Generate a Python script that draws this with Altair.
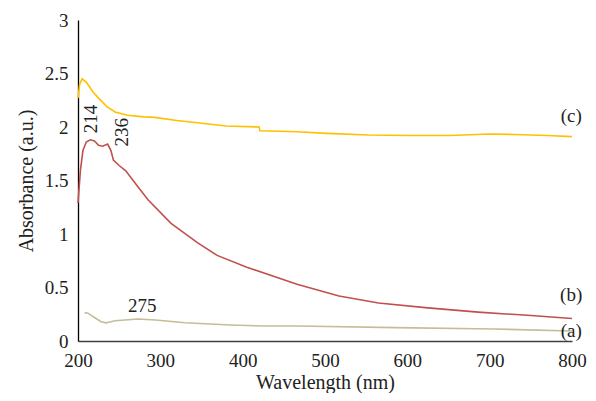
import altair as alt
import pandas as pd

# (c) yellow
c_wl = [200, 202, 205, 210, 218, 225, 235, 245, 260, 280, 293, 320, 345, 380, 420, 421, 466, 502, 553, 600, 652, 700, 730, 770, 800]
c_ab = [2.27, 2.40, 2.45, 2.42, 2.33, 2.27, 2.19, 2.14, 2.11, 2.095, 2.09, 2.06, 2.04, 2.01, 2.00, 1.965, 1.955, 1.94, 1.925, 1.92, 1.92, 1.935, 1.93, 1.92, 1.91]

# (b) red
b_wl = [200, 203, 206, 210, 215, 220, 225, 230, 236, 240, 243, 250, 258, 273, 285, 313, 345, 369, 405, 466, 517, 565, 625, 686, 746, 800]
b_ab = [1.29, 1.60, 1.78, 1.86, 1.88, 1.87, 1.83, 1.82, 1.84, 1.78, 1.69, 1.64, 1.59, 1.44, 1.32, 1.10, 0.92, 0.80, 0.69, 0.53, 0.42, 0.355, 0.31, 0.27, 0.24, 0.21]

# (a) khaki
a_wl = [208, 212, 220, 228, 234, 240, 245, 273, 294, 330, 385, 426, 466, 586, 706, 800]
a_ab = [0.265, 0.26, 0.22, 0.18, 0.17, 0.18, 0.19, 0.205, 0.196, 0.17, 0.15, 0.14, 0.14, 0.125, 0.112, 0.094]

series_names = ["a", "b", "c"]
series_colors = ["#C4BD97", "#C0504D", "#FFC000"]

# peak annotations
peak_text = ["214", "236", "275"]
peak_x = [215.6, 252.9, 278]
peak_y = [2.075, 1.95, 0.327]
peak_angle = [270, 270, 0]

# curve labels
lab_text = ["(c)", "(b)", "(a)"]
lab_x = [799, 799, 799]
lab_y = [2.10, 0.43, 0.09]

rows = []
for name, wl, ab in [("a", a_wl, a_ab), ("b", b_wl, b_ab), ("c", c_wl, c_ab)]:
    for i, (w, v) in enumerate(zip(wl, ab)):
        rows.append({"series": name, "wl": w, "ab": v, "order": i})
df = pd.DataFrame(rows)

peaks = pd.DataFrame({"t": peak_text, "x": peak_x, "y": peak_y, "angle": peak_angle})
labs = pd.DataFrame({"t": lab_text, "x": lab_x, "y": lab_y})

FONT = "'Liberation Serif', 'DejaVu Serif', serif"

xscale = alt.Scale(domain=[200, 800], nice=False)
yscale = alt.Scale(domain=[0, 3], nice=False)

lines = alt.Chart(df).mark_line(strokeWidth=1.6).encode(
    x=alt.X("wl:Q", scale=xscale,
            axis=alt.Axis(title="Wavelength (nm)", values=[200, 300, 400, 500, 600, 700, 800],
                          grid=False, ticks=False, tickSize=0, domainColor="#404040",
                          labelPadding=10, titlePadding=2, format="d", labelFlush=False)),
    y=alt.Y("ab:Q", scale=yscale,
            axis=alt.Axis(title="Absorbance (a.u.)", values=[0, 0.5, 1, 1.5, 2, 2.5, 3],
                          grid=False, ticks=False, tickSize=0, domainColor="#000000",
                          labelPadding=10, titlePadding=8, format="~g", labelFlush=False)),
    color=alt.Color("series:N", scale=alt.Scale(domain=series_names, range=series_colors), legend=None),
    order="order:Q",
    detail="series:N",
)

peak_rot = alt.Chart(peaks[peaks["angle"] == 270]).mark_text(
    font=FONT, fontSize=19, angle=270, align="center", baseline="middle", color="#222222"
).encode(x=alt.X("x:Q", scale=xscale), y=alt.Y("y:Q", scale=yscale), text="t:N")

peak_flat = alt.Chart(peaks[peaks["angle"] == 0]).mark_text(
    font=FONT, fontSize=19, align="center", baseline="middle", color="#222222"
).encode(x=alt.X("x:Q", scale=xscale), y=alt.Y("y:Q", scale=yscale), text="t:N")

lab_marks = alt.Chart(labs).mark_text(
    font=FONT, fontSize=19, align="center", baseline="middle", color="#222222"
).encode(x=alt.X("x:Q", scale=xscale), y=alt.Y("y:Q", scale=yscale), text="t:N")

chart = alt.layer(lines, peak_rot, peak_flat, lab_marks).properties(
    width=494, height=321,
    autosize=alt.AutoSizeParams(type="none"),
    padding={"left": 70, "top": 12, "right": 16, "bottom": 52},
    background="white",
).configure_view(stroke=None).configure_axis(
    labelFont=FONT, titleFont=FONT, labelFontSize=19, titleFontSize=20,
    labelColor="#222222", titleColor="#222222", titleFontWeight="normal",
    domainWidth=1.3,
)

chart.save("out.html", embed_options={"renderer": "svg", "actions": False})
